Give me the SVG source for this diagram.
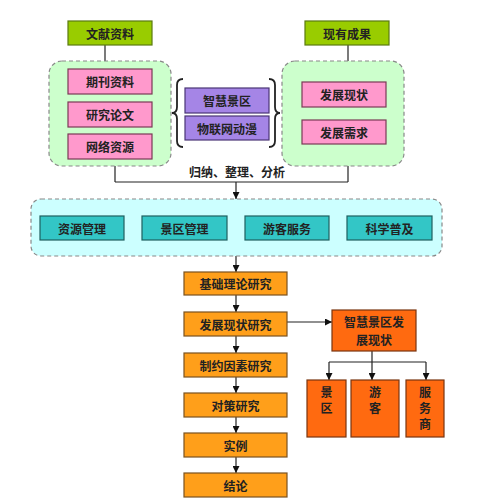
<svg xmlns="http://www.w3.org/2000/svg" width="503" height="500" viewBox="0 0 503 500">
<defs>
<marker id="arr" viewBox="0 0 10 10" refX="10" refY="5" markerWidth="7" markerHeight="7" orient="auto" markerUnits="userSpaceOnUse">
<path d="M0,0 L10,5 L0,10 z" fill="#111"/>
</marker>
</defs>
<style>
text{font-family:"Noto Sans CJK SC","Noto Sans",sans-serif;font-size:12px;font-weight:bold;fill:#222;text-anchor:middle;dominant-baseline:central}
.vt{writing-mode:vertical-rl;text-anchor:start;letter-spacing:4px}
.title{fill:#99cc00;stroke:#5a7a10;stroke-width:1.2}
.pink{fill:#ff99cc;stroke:#7a3a55;stroke-width:1.2}
.purple{fill:#a585e6;stroke:#4a3575;stroke-width:1.2}
.teal{fill:#33c6c6;stroke:#1e5f5f;stroke-width:1.2}
.orange{fill:#ff9f1a;stroke:#7a5220;stroke-width:1.2}
.red{fill:#ff6a10;stroke:#7a3510;stroke-width:1.2}
.cont-g{fill:#ccffcc;stroke:#888;stroke-width:1.2;stroke-dasharray:4,3}
.cont-c{fill:#ccffff;stroke:#888;stroke-width:1.2;stroke-dasharray:4,3}
.ln{fill:none;stroke:#222;stroke-width:1.2}
.arrow{fill:none;stroke:#222;stroke-width:1.2;marker-end:url(#arr)}
.brace{fill:none;stroke:#222;stroke-width:1.8}
</style>
<rect width="503" height="500" fill="#fff"/>

<g id="connectors">
<line class="ln" x1="105" y1="45" x2="105" y2="61"/>
<line class="ln" x1="348" y1="45" x2="348" y2="61"/>
<line class="ln" x1="115" y1="166" x2="115" y2="182"/>
<line class="ln" x1="348" y1="166" x2="348" y2="182"/>
<line class="ln" x1="115" y1="182" x2="348" y2="182"/>
<line class="arrow" x1="236" y1="182" x2="236" y2="199"/>
<line class="arrow" x1="236" y1="256" x2="236" y2="272"/>
<line class="arrow" x1="236" y1="295" x2="236" y2="312"/>
<line class="arrow" x1="236" y1="336" x2="236" y2="353"/>
<line class="arrow" x1="236" y1="377" x2="236" y2="393"/>
<line class="arrow" x1="236" y1="417" x2="236" y2="433"/>
<line class="arrow" x1="236" y1="457" x2="236" y2="473"/>
<line class="arrow" x1="280" y1="322" x2="332" y2="322"/>
<line class="ln" x1="372" y1="351" x2="372" y2="362"/>
<line class="ln" x1="329" y1="362" x2="426" y2="362"/>
<line class="arrow" x1="329" y1="362" x2="329" y2="380"/>
<line class="arrow" x1="372" y1="362" x2="372" y2="380"/>
<line class="arrow" x1="426" y1="362" x2="426" y2="380"/>
</g>

<g id="left-group">
<rect class="cont-g" x="49" y="61" width="122" height="105" rx="13"/>
</g>
<g id="right-group">
<rect class="cont-g" x="282" y="61" width="122" height="105" rx="13"/>
</g>
<g id="cyan-group">
<rect class="cont-c" x="31" y="199" width="411" height="57" rx="10"/>
</g>

<g id="wenxian"><rect class="title" x="68" y="21" width="84" height="24"/><text x="110" y="33">文献资料</text></g>
<g id="xianyou"><rect class="title" x="305" y="21" width="84" height="24"/><text x="347" y="33">现有成果</text></g>

<g id="qikan"><rect class="pink" x="68" y="69" width="84" height="25"/><text x="110" y="81.5">期刊资料</text></g>
<g id="yanjiu"><rect class="pink" x="68" y="102" width="84" height="25"/><text x="110" y="114.5">研究论文</text></g>
<g id="wangluo"><rect class="pink" x="68" y="134" width="84" height="25"/><text x="110" y="146.5">网络资源</text></g>

<g id="xianzhuang"><rect class="pink" x="302" y="82" width="84" height="25"/><text x="344" y="94.5">发展现状</text></g>
<g id="xuqiu"><rect class="pink" x="302" y="120" width="84" height="24"/><text x="344" y="132">发展需求</text></g>

<g id="braces">
<path class="brace" d="M183,79 Q177,79 177,85 L177,107 Q177,113 172,113 Q177,113 177,119 L177,141 Q177,147 183,147"/>
<path class="brace" d="M269,79 Q275,79 275,85 L275,107 Q275,113 280,113 Q275,113 275,119 L275,141 Q275,147 269,147"/>
</g>
<g id="zhihui"><rect class="purple" x="185" y="88" width="84" height="25"/><text x="227" y="100.5">智慧景区</text></g>
<g id="wulian"><rect class="purple" x="185" y="116" width="84" height="24"/><text x="227" y="128">物联网动漫</text></g>

<g id="guina"><text x="237" y="171">归纳、整理、分析</text></g>

<g id="ziyuan"><rect class="teal" x="40" y="216" width="84" height="24"/><text x="82" y="228">资源管理</text></g>
<g id="jingqu"><rect class="teal" x="142" y="216" width="85" height="24"/><text x="184.5" y="228">景区管理</text></g>
<g id="youke"><rect class="teal" x="245" y="216" width="84" height="24"/><text x="287" y="228">游客服务</text></g>
<g id="kexue"><rect class="teal" x="347" y="216" width="85" height="24"/><text x="389.5" y="228">科学普及</text></g>

<g id="jichu"><rect class="orange" x="184" y="272" width="103" height="23"/><text x="235.5" y="283.5">基础理论研究</text></g>
<g id="fazhan"><rect class="orange" x="184" y="312" width="103" height="24"/><text x="235.5" y="324">发展现状研究</text></g>
<g id="zhiyue"><rect class="orange" x="184" y="353" width="103" height="24"/><text x="235.5" y="365">制约因素研究</text></g>
<g id="duice"><rect class="orange" x="184" y="393" width="103" height="24"/><text x="235.5" y="405">对策研究</text></g>
<g id="shili"><rect class="orange" x="184" y="433" width="103" height="24"/><text x="235.5" y="445">实例</text></g>
<g id="jielun"><rect class="orange" x="184" y="473" width="103" height="24"/><text x="235.5" y="485">结论</text></g>

<g id="zhihui-xz"><rect class="red" x="332" y="310" width="84" height="41"/><text x="374" y="321.5">智慧景区发</text><text x="374" y="339">展现状</text></g>
<g id="jq"><rect class="red" x="307" y="380" width="39" height="57"/><text class="vt" x="326.5" y="386">景区</text></g>
<g id="yk"><rect class="red" x="351" y="380" width="48" height="57"/><text class="vt" x="375" y="386">游客</text></g>
<g id="fws"><rect class="red" x="406" y="380" width="38" height="57"/><text class="vt" x="425" y="386">服务商</text></g>
</svg>
